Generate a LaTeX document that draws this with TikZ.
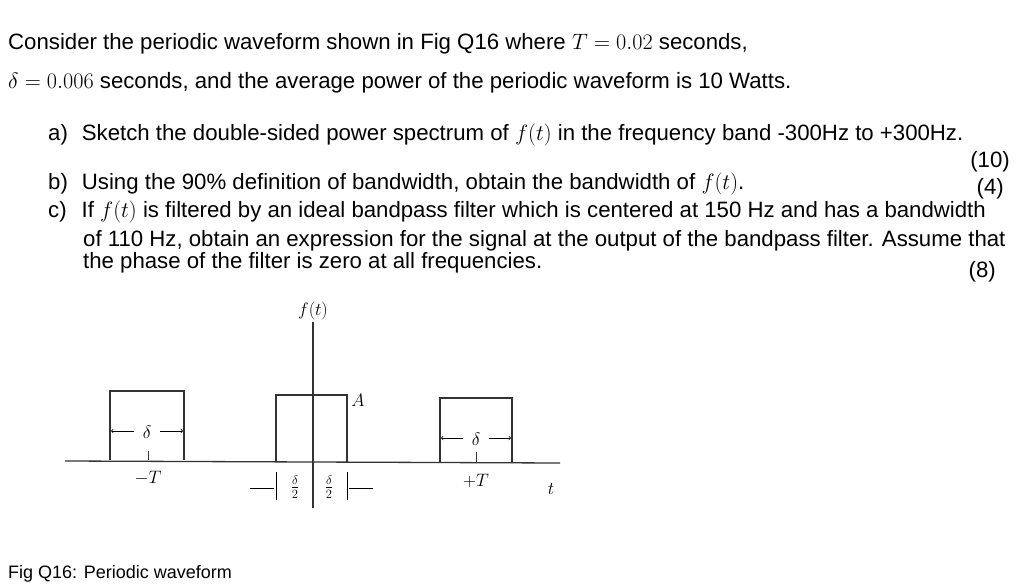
\RequirePackage{fix-cm}
\documentclass[tikz,border=0pt]{standalone}
\usepackage{fontspec}
\setmainfont{Liberation Sans}
\begin{document}
\begin{tikzpicture}[x=1pt,y=-1pt,
  txt/.style={anchor=base west,inner sep=0pt,font=\fontsize{22.2}{26}\selectfont},
  fig/.style={line width=1.3pt,black!80},
  lbl/.style={inner sep=0pt,font=\fontsize{18}{20}\selectfont}]
\useasboundingbox (0,0) rectangle (1016,585);
\node[txt] (l1) at (8,50) {Consider the periodic waveform shown in Fig Q16 where $T=0.02$ seconds,};
\node[txt] (l2) at (8,89) {$\delta=0.006$ seconds, and the average power of the periodic waveform is 10 Watts.};
\node[txt] (la) at (48,141) {a)\hspace{14pt}Sketch the double-sided power spectrum of $f(t)$ in the frequency band -300Hz to +300Hz.};
\node[txt,anchor=base east] (m10) at (1010,168) {(10)};
\node[txt] (lb) at (48,190) {b)\hspace{14pt}Using the 90\% definition of bandwidth, obtain the bandwidth of $f(t)$.};
\node[txt,anchor=base east] (m4) at (1004,195) {(4)};
\node[txt] (lc) at (48,218) {c)\hspace{15pt}If $f(t)$ is filtered by an ideal bandpass filter which is centered at 150 Hz and has a bandwidth};
\node[txt] (lc2) at (83,246) {of 110 Hz, obtain an expression for the signal at the output of the bandpass filter. Assume that};
\node[txt] (lc3) at (83,268) {the phase of the filter is zero at all frequencies.};
\node[txt,anchor=base east] (m8) at (996,277) {(8)};
\node[txt,font=\fontsize{18}{20}\selectfont] (cap) at (8,578) {Fig Q16: Periodic waveform};
% figure
\coordinate (ax0) at (65,461); \coordinate (ax1) at (560,463);
\draw[fig] (ax0) -- (ax1);
\coordinate (v0) at (313,322); \coordinate (v1) at (313,508);
\draw[fig] (v0) -- (v1);
\node[lbl] (ft) at (313,311) {$f(t)$};
\draw[fig] (110,460) -- (110,391) -- (184,391) -- (184,460);
\draw[fig] (276,462) -- (276,395) -- (347,395) -- (347,462);
\draw[fig] (440,463) -- (440,398) -- (512,398) -- (512,463);
\node[lbl] (A) at (358,400) {$A$};
\draw[fig,line width=0.7pt] (148,451)--(148,460) (476,452)--(476,463);
\node[lbl] (d1) at (147,432) {$\delta$};
\coordinate (d1a) at (134,431); \coordinate (d1b) at (160,431);
\draw[->,line width=0.7pt] (d1a) -- (111,431);
\draw[->,line width=0.7pt] (d1b) -- (183,431);
\node[lbl] (d2) at (476,439) {$\delta$};
\coordinate (d2a) at (463,438); \coordinate (d2b) at (489,438);
\draw[->,line width=0.7pt] (d2a) -- (441,438);
\draw[->,line width=0.7pt] (d2b) -- (511,438);
\node[lbl] (mT) at (148,478) {$-T$};
\node[lbl] (pT) at (476,481) {$+T$};
\node[lbl] (tt) at (551,489) {$t$};
\node[lbl] (h1) at (295,487) {$\frac{\delta}{2}$};
\node[lbl] (h2) at (329,487) {$\frac{\delta}{2}$};
\draw[line width=0.9pt] (276,472)--(276,500) (347,472)--(347,500);
\draw[line width=0.9pt] (250,488)--(274,488) (349,488)--(373,488);
\end{tikzpicture}
\end{document}
